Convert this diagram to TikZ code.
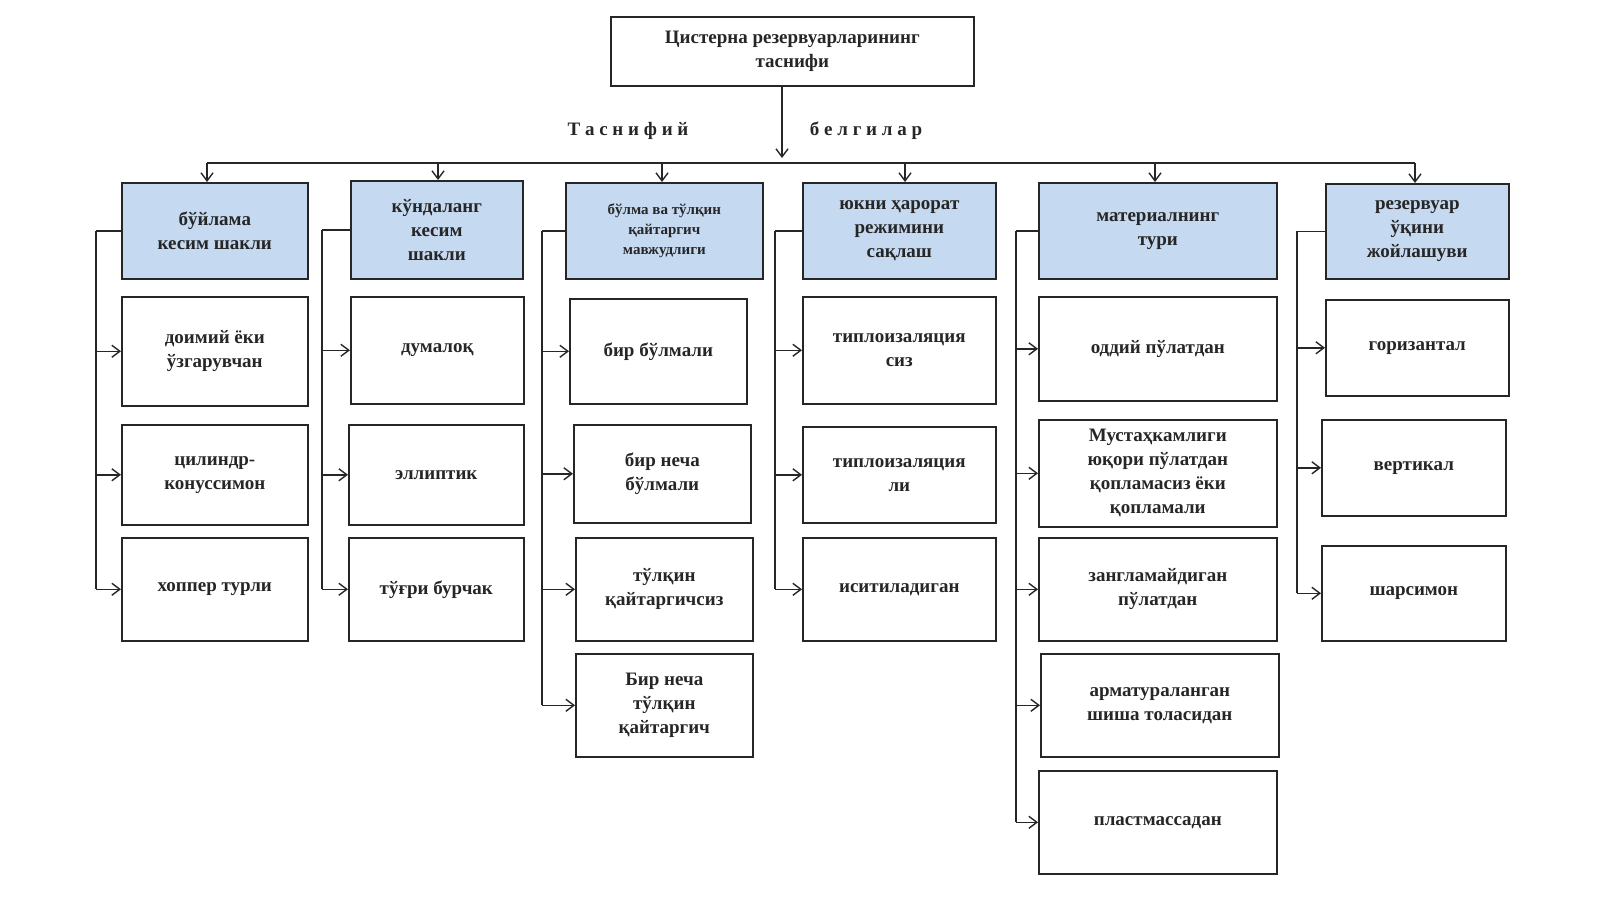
\documentclass[tikz,border=0pt]{standalone}
\usepackage{fontspec}
\usetikzlibrary{arrows.meta}
\setmainfont{Liberation Serif}
\begin{document}
\begin{tikzpicture}[x=0.5pt,y=-0.5pt,
  bx/.style={draw=black!85,line width=0.8pt,align=center,anchor=north west,inner sep=0pt,font=\bfseries\fontsize{9.5}{12}\selectfont,text=black!85},
  hd/.style={bx,fill={rgb,255:red,197;green,217;blue,241}},
  ar/.style={-{Straight Barb[length=4pt,width=6pt]},line width=0.7pt,black!85},
  ln/.style={line width=0.7pt,black!85}]
\useasboundingbox (0,0) rectangle (1600,899);
\def\B#1#2#3#4#5#6#7{\node[#7,minimum width={(#4-#2)*0.5pt},minimum height={(#5-#3)*0.5pt}] (#1) at (#2,#3) {#6};}
\B{top}{610}{16}{973}{85}{Цистерна резервуарларининг\\таснифи}{bx}
\node[font=\bfseries\fontsize{9.5}{12}\selectfont,text=black!85] (l1) at (628,131) {Т а с н и ф и й};
\node[font=\bfseries\fontsize{9.5}{12}\selectfont,text=black!85] (l2) at (866,131) {б е л г и л а р};
\coordinate (bus) at (782,158);
\draw[ar] (top.south -| bus) -- (bus);
\draw[ln] (207,163) -- (1415,163);
\B{h1}{121}{182}{307}{278}{бўйлама\\кесим шакли}{hd}
\B{h2}{350}{180}{522}{278}{кўндаланг\\кесим\\шакли}{hd}
\B{h3}{565}{182}{762}{278}{бўлма ва тўлқин\\қайтаргич\\мавжудлиги}{hd,font=\bfseries\fontsize{7.5}{10}\selectfont}
\B{h4}{802}{182}{995}{278}{юкни ҳарорат\\режимини\\сақлаш}{hd}
\B{h5}{1038}{182}{1276}{278}{материалнинг\\тури}{hd}
\B{h6}{1325}{183}{1508}{278}{резервуар\\ўқини\\жойлашуви}{hd}
\foreach \h/\x in {h1/207,h2/438,h3/662,h4/905,h5/1155,h6/1415}
  \draw[ar] (\x,163) -- (\h.north -| \x,0);
\B{a1}{121}{296}{307}{405}{доимий ёки\\ўзгарувчан}{bx}
\B{a2}{121}{424}{307}{524}{цилиндр-\\конуссимон}{bx}
\B{a3}{121}{537}{307}{640}{хоппер турли}{bx}
\B{b1}{350}{296}{523}{403}{думалоқ}{bx}
\B{b2}{348}{424}{523}{524}{эллиптик}{bx}
\B{b3}{348}{537}{523}{640}{тўғри бурчак}{bx}
\B{c1}{569}{298}{746}{403}{бир бўлмали}{bx}
\B{c2}{573}{424}{750}{522}{бир неча\\бўлмали}{bx}
\B{c3}{575}{537}{752}{640}{тўлқин\\қайтаргичсиз}{bx}
\B{c4}{575}{653}{752}{756}{Бир неча\\тўлқин\\қайтаргич}{bx}
\B{d1}{802}{296}{995}{403}{типлоизаляция\\сиз}{bx}
\B{d2}{802}{426}{995}{522}{типлоизаляция\\ли}{bx}
\B{d3}{802}{537}{995}{640}{иситиладиган}{bx}
\B{e1}{1038}{296}{1276}{400}{оддий пўлатдан}{bx}
\B{e2}{1038}{419}{1276}{526}{Мустаҳкамлиги\\юқори пўлатдан\\қопламасиз ёки\\қопламали}{bx}
\B{e3}{1038}{537}{1276}{640}{зангламайдиган\\пўлатдан}{bx}
\B{e4}{1040}{653}{1278}{756}{арматураланган\\шиша толасидан}{bx}
\B{e5}{1038}{770}{1276}{873}{пластмассадан}{bx}
\B{f1}{1325}{299}{1508}{395}{горизантал}{bx}
\B{f2}{1321}{419}{1505}{515}{вертикал}{bx}
\B{f3}{1321}{545}{1505}{640}{шарсимон}{bx}
\foreach \h/\x/\last/\list in {h1/96/a3/{a1,a2,a3},h2/322/b3/{b1,b2,b3},h3/542/c4/{c1,c2,c3,c4},h4/775/d3/{d1,d2,d3},h5/1016/e5/{e1,e2,e3,e4,e5},h6/1297/f3/{f1,f2,f3}}{
  \draw[ln] (\h.west -| \x,0) -- (\h.west) ;
  \draw[ln] (\h.west -| \x,0) -- (\last.west -| \x,0);
  \foreach \c in \list \draw[ar] (\c.west -| \x,0) -- (\c.west);
}
\end{tikzpicture}
\end{document}
